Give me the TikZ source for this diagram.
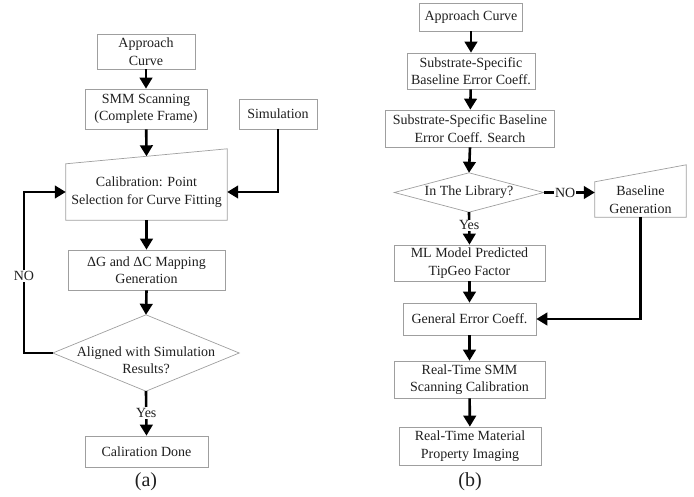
\documentclass[tikz,border=0pt]{standalone}
\usepackage{fontspec}
\setmainfont{Liberation Serif}
\usetikzlibrary{arrows.meta,calc}
\newcommand{\fsz}{\fontsize{14}{17.5}\selectfont}
\begin{document}
\begin{tikzpicture}[x=1pt,y=-1pt,
  box/.style={draw=gray!75, line width=0.7pt, rectangle, inner sep=0pt, align=center, font=\fsz, text=black!88},
  plain/.style={rectangle, inner sep=0pt, align=center, font=\fsz, text=black!88},
  outl/.style={draw=gray!75, line width=0.7pt},
  arr/.style={line width=2.6pt, -{Triangle[length=11pt,width=12.5pt]}},
  lbl/.style={fill=white, inner sep=1pt, font=\fsz, text=black!88},
  captxt/.style={inner sep=0pt, font=\fontsize{20}{24}\selectfont, text=black!88}]
\useasboundingbox (0,0) rectangle (694,497);
% ---------------- (a) ----------------
\node[box, minimum width=98pt, minimum height=35pt] (aca) at (146,51.5) {Approach\\Curve};
\node[box, minimum width=122pt, minimum height=40pt] (smm) at (146,109) {SMM Scanning\\(Complete Frame)};
\node[box, minimum width=78pt, minimum height=30pt] (sim) at (278,114) {Simulation};
\node[plain, minimum width=161pt, minimum height=56pt] (cal) at (146.5,192) {Calibration: Point\\Selection for Curve Fitting};
\draw[outl] (cal.south west) -- (cal.south east) -- ($(cal.north east)+(0,-15)$) -- (cal.north west) -- cycle;
\coordinate (caltop) at ($(cal.north)+(0,-7.5)$);
\node[box, minimum width=157pt, minimum height=40pt] (dg) at (146.5,270) {ΔG and ΔC Mapping\\Generation};
\node[plain, minimum width=186pt, minimum height=76pt] (al) at (146,353) {};
\draw[outl] (al.north) -- (al.east) -- (al.south) -- (al.west) -- cycle;
\node[plain] (alt) at (146,360) {Aligned with Simulation\\Results?};
\node[box, minimum width=123pt, minimum height=31pt] (done) at (146.5,451.5) {Caliration Done};
\node[captxt] (capa) at (146,482) {(a)};
\coordinate (fb) at (24,353);
\draw[arr] (aca) -- (smm);
\draw[arr] (smm) -- (caltop);
\draw[arr] (sim.south) |- (cal.east);
\draw[arr] (cal.south) -- (dg.north);
\draw[arr] (dg.south) -- (al.north);
\draw[arr] (al.west) -- (fb) |- (cal.west);
\node[lbl] (noa) at (24,276) {NO};
\draw[arr] (al.south) -- (done.north) node[lbl, pos=0.49] (yesa) {Yes};
% ---------------- (b) ----------------
\node[box, minimum width=103pt, minimum height=28pt] (acb) at (471,17) {Approach Curve};
\node[box, minimum width=128pt, minimum height=36pt] (sub) at (471,71) {Substrate-Specific\\Baseline Error Coeff.};
\node[box, minimum width=169pt, minimum height=37pt] (srch) at (470,128.5) {Substrate-Specific Baseline\\Error Coeff. Search};
\node[plain, minimum width=149pt, minimum height=39pt] (lib) at (469,192.5) {In The Library?};
\draw[outl] (lib.north) -- (lib.east) -- (lib.south) -- (lib.west) -- cycle;
\node[plain, minimum width=91pt, minimum height=35pt] (base) at (640.5,199.5) {Baseline\\Generation};
\draw[outl] (base.south west) -- (base.south east) -- ($(base.north east)+(0,-17)$) -- (base.north west) -- cycle;
\node[box, minimum width=151pt, minimum height=36pt] (ml) at (469.5,263) {ML Model Predicted\\TipGeo Factor};
\node[box, minimum width=133pt, minimum height=32pt] (gen) at (469.5,319) {General Error Coeff.};
\node[box, minimum width=151pt, minimum height=37pt] (rt) at (469.5,379.5) {Real-Time SMM\\Scanning Calibration};
\node[box, minimum width=142pt, minimum height=38pt] (rtm) at (470,446) {Real-Time Material\\Property Imaging};
\node[captxt] (capb) at (470,482) {(b)};
\draw[arr] (acb) -- (sub);
\draw[arr] (sub) -- (srch);
\draw[arr] (srch.south) -- (lib.north);
\draw[arr] (lib.east) -- (lib.east -| base.west) node[lbl, pos=0.42] (nob) {NO};
\draw[arr] (lib.south) -- (ml.north) node[lbl, pos=0.4] (yesb) {Yes};
\draw[arr] (ml) -- (gen);
\draw[arr] (base.south) |- (gen.east);
\draw[arr] (gen) -- (rt);
\draw[arr] (rt) -- (rtm);
\end{tikzpicture}
\end{document}
